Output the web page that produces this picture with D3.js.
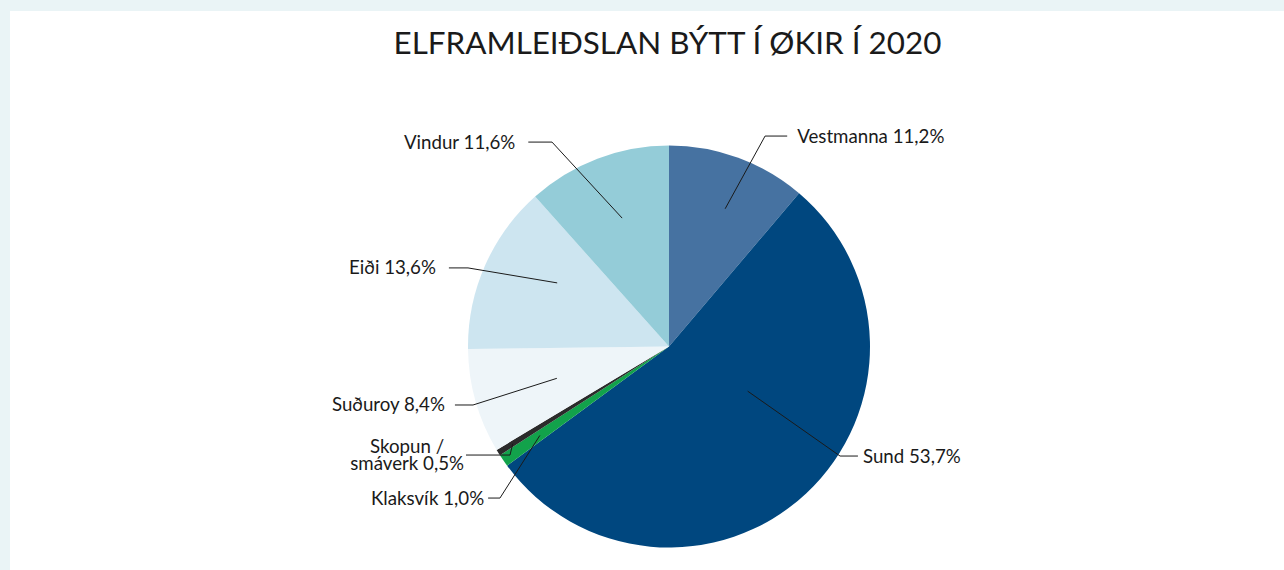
<!DOCTYPE html>
<html>
<head>
<meta charset="utf-8">
<script src="https://cdn.jsdelivr.net/npm/d3@7"></script>
<style>
  html, body { margin: 0; padding: 0; background: #eaf4f6; }
  svg { display: block; }
  text { font-family: Lato, "Open Sans", sans-serif; fill: #1a1a1a; }
</style>
</head>
<body>
<svg id="chart" width="1284" height="570"></svg>
<script>
// ---- data ----
const categories = ["Vestmanna", "Sund", "Klaksvík", "Skopun /\nsmáverk", "Suðuroy", "Eiði", "Vindur"];
const values = [11.2, 53.7, 1.0, 0.5, 8.4, 13.6, 11.6];
const valueLabels = ["11,2%", "53,7%", "1,0%", "0,5%", "8,4%", "13,6%", "11,6%"];
const colors = ["#4672a1", "#00477f", "#12a24b", "#2b2b2b", "#eef5f9", "#cde5f0", "#94ccd8"];
const title = "ELFRAMLEIÐSLAN BÝTT Í ØKIR Í 2020";

// ---- label layout (relative to pie radius) ----
// t: position along slice angle, k: radial fraction of start point,
// ex/ey: elbow offset from centre, hx: horizontal leg end offset from centre, gap: text gap
const labelLayout = [
  {t: 0.55, k: 0.74, ex: 0.478, ey: -1.047, hx: 0.588, gap: 10},
  {t: 0.41, k: 0.45, ex: 0.851, ey: 0.545, hx: 0.94, gap: 5},
  {t: 0.5, k: 0.78, ex: -0.841, ey: 0.754, hx: -0.90, gap: 4},
  {t: 0.5, k: 0.915, ex: -0.791, ey: 0.540, hx: -1.01, gap: 2},
  {t: 0.5, k: 0.58, ex: -0.975, ey: 0.291, hx: -1.065, gap: 10},
  {t: 0.62, k: 0.64, ex: -1.0, ey: -0.391, hx: -1.095, gap: 13},
  {t: 0.52, k: 0.68, ex: -0.582, ey: -1.017, hx: -0.70, gap: 13}
];

const W = 1284, H = 570;
const svg = d3.select("#chart");

svg.append("rect").attr("x", 10).attr("y", 11).attr("width", W - 10).attr("height", H - 11).attr("fill", "#ffffff");

svg.append("text")
  .attr("x", 667.5).attr("y", 54)
  .attr("text-anchor", "middle")
  .attr("font-size", 31.4)
  .text(title);

const cx = 669, cy = 346.5, R = 201;
const g = svg.append("g").attr("transform", `translate(${cx},${cy})`);

const rows = categories.map((c, i) => ({name: c, value: values[i], label: valueLabels[i], color: colors[i], lay: labelLayout[i]}));
const pie = d3.pie().value(d => d.value).sort(null);
const arcs = pie(rows);
const arc = d3.arc().innerRadius(0).outerRadius(R);

g.selectAll("path.slice").data(arcs).join("path")
  .attr("class", "slice")
  .attr("d", arc)
  .attr("fill", d => d.data.color);

const FS = 18.7;
arcs.forEach(a => {
  const L = a.data.lay;
  const ang = a.startAngle + L.t * (a.endAngle - a.startAngle);
  const p0 = [Math.sin(ang) * L.k * R, -Math.cos(ang) * L.k * R];
  const p1 = [L.ex * R, L.ey * R];
  const p2 = [L.hx * R, L.ey * R];
  g.append("path")
    .attr("d", d3.line()([p0, p1, p2]))
    .attr("fill", "none")
    .attr("stroke", "#1a1a1a")
    .attr("stroke-width", 1);
  const right = L.hx > L.ex;
  const tx = p2[0] + (right ? L.gap : -L.gap);
  const lines = (a.data.name + " " + a.data.label).split("\n");
  const t = g.append("text")
    .attr("font-size", FS)
    .attr("text-anchor", lines.length > 1 ? "middle" : (right ? "start" : "end"));
  if (lines.length > 1) {
    lines.forEach((ln, j) => {
      t.append("tspan").attr("x", 0).attr("y", p2[1] + 6.5 + (j - (lines.length - 1) / 2) * 17.5).text(ln);
    });
    const bw = t.node().getBBox().width;
    const mx = right ? tx + bw / 2 : tx - bw / 2;
    t.selectAll("tspan").attr("x", mx);
  } else {
    t.attr("x", tx).attr("y", p2[1] + 6.5).text(lines[0]);
  }
});
</script>
</body>
</html>
